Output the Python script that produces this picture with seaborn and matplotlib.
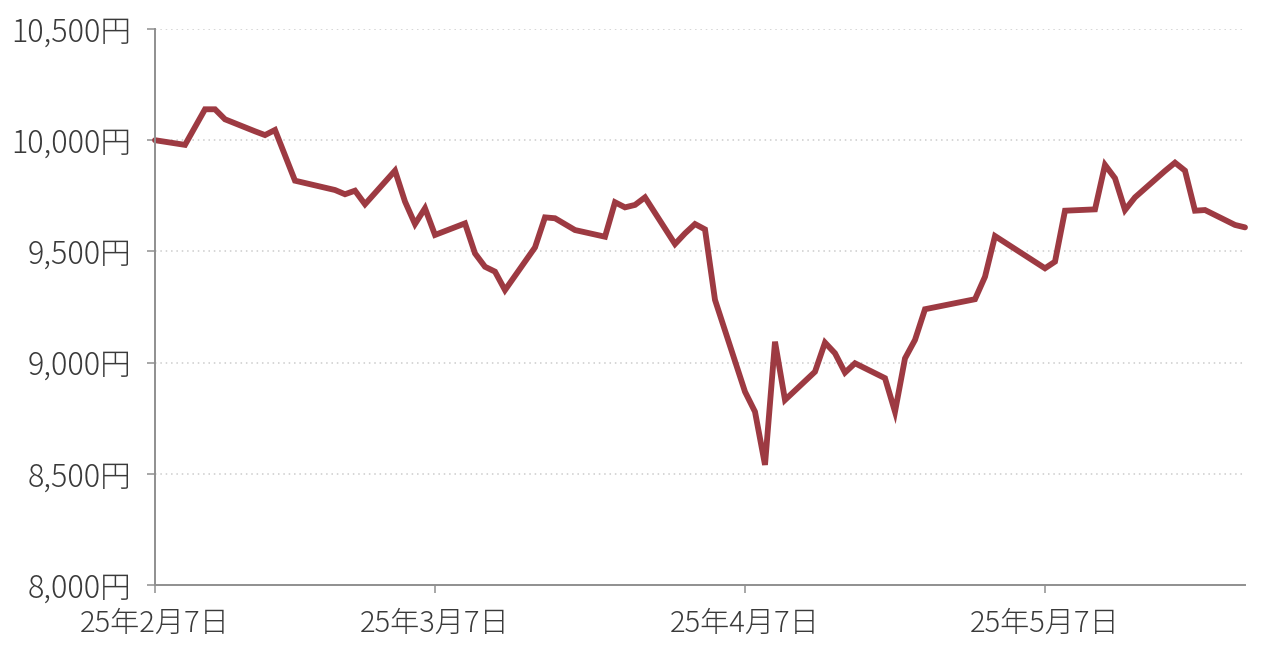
import matplotlib
matplotlib.use("Agg")
import matplotlib.pyplot as plt
import matplotlib.ticker as mticker
import seaborn as sns
import pandas as pd

dates = [
    "2025-02-07", "2025-02-10", "2025-02-12", "2025-02-13", "2025-02-14",
    "2025-02-17", "2025-02-18", "2025-02-19", "2025-02-21", "2025-02-25",
    "2025-02-26", "2025-02-27", "2025-02-28", "2025-03-03", "2025-03-04",
    "2025-03-05", "2025-03-06", "2025-03-07", "2025-03-10", "2025-03-11",
    "2025-03-12", "2025-03-13", "2025-03-14", "2025-03-17", "2025-03-18",
    "2025-03-19", "2025-03-21", "2025-03-24", "2025-03-25", "2025-03-26",
    "2025-03-27", "2025-03-28", "2025-03-31", "2025-04-01", "2025-04-02",
    "2025-04-03", "2025-04-04", "2025-04-07", "2025-04-08", "2025-04-09",
    "2025-04-10", "2025-04-11", "2025-04-14", "2025-04-15", "2025-04-16",
    "2025-04-17", "2025-04-18", "2025-04-21", "2025-04-22", "2025-04-23",
    "2025-04-24", "2025-04-25", "2025-04-28", "2025-04-30", "2025-05-01",
    "2025-05-02", "2025-05-07", "2025-05-08", "2025-05-09", "2025-05-12",
    "2025-05-13", "2025-05-14", "2025-05-15", "2025-05-16", "2025-05-19",
    "2025-05-20", "2025-05-21", "2025-05-22", "2025-05-23", "2025-05-26",
    "2025-05-27",
]
values = [
    10000, 9979, 10139, 10139, 10094,
    10040, 10023, 10046, 9818, 9776,
    9757, 9773, 9712, 9863, 9724,
    9623, 9694, 9574, 9626, 9491,
    9431, 9409, 9326, 9518, 9653,
    9649, 9596, 9566, 9721, 9698,
    9709, 9743, 9533, 9581, 9623,
    9599, 9282, 8869, 8779, 8540,
    9094, 8832, 8959, 9090, 9042,
    8955, 8997, 8930, 8779, 9019,
    9102, 9240, 9267, 9285, 9386,
    9569, 9424, 9454, 9683, 9689,
    9889, 9829, 9686, 9743, 9862,
    9899, 9863, 9683, 9686, 9619,
    9608,
]
y_ticks = [8000, 8500, 9000, 9500, 10000, 10500]
x_tick_dates = ["2025-02-07", "2025-03-07", "2025-04-07", "2025-05-07"]
x_tick_labels = ["25年2月7日", "25年3月7日", "25年4月7日", "25年5月7日"]

df = pd.DataFrame({"date": pd.to_datetime(dates), "value": values})

sns.set_style("white")
plt.rcParams["font.family"] = ["Noto Sans CJK JP", "DejaVu Sans"]

fig = plt.figure(figsize=(12.8, 6.51), dpi=100)
ax = fig.add_axes([155 / 1280, 1 - 585 / 651, (1245 - 155) / 1280, (585 - 29) / 651])

sns.lineplot(data=df, x="date", y="value", ax=ax, color="#9d3a42",
             linewidth=4.2, solid_joinstyle="miter", clip_on=False)

ax.set_xlim(pd.Timestamp("2025-02-07"), pd.Timestamp("2025-05-27"))
ax.set_ylim(8000, 10500)
ax.set_yticks(y_ticks)
ax.yaxis.set_major_formatter(mticker.FuncFormatter(lambda v, p: f"{int(v):,}円"))
ax.set_xticks(pd.to_datetime(x_tick_dates))
ax.set_xticklabels(x_tick_labels)
ax.set_xlabel("")
ax.set_ylabel("")

for y in y_ticks[1:]:
    ax.axhline(y, color="#cccccc", linestyle=(0, (1, 2.5)), linewidth=1.1, zorder=0)

for s in ["top", "right"]:
    ax.spines[s].set_visible(False)
for s in ["left", "bottom"]:
    ax.spines[s].set_color("#8f8f8f")
    ax.spines[s].set_linewidth(1.4)

ax.tick_params(axis="y", direction="out", length=6, width=1.1, color="#8f8f8f",
               labelsize=22, labelcolor="#3a3a3a", pad=11, left=True)
ax.tick_params(axis="x", direction="out", length=6, width=1.1, color="#8f8f8f",
               labelsize=21, labelcolor="#3a3a3a", pad=11, bottom=True)
for lab in ax.get_xticklabels() + ax.get_yticklabels():
    lab.set_fontweight("light")

fig.savefig("out.png", dpi=100)
